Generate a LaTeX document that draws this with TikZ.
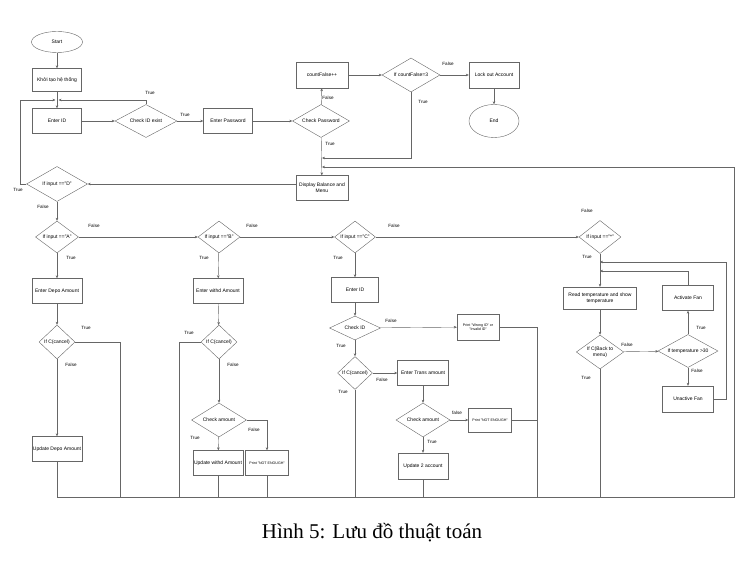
\documentclass[tikz,border=0pt]{standalone}
\usepackage{fontspec}
\setmainfont{Liberation Serif}
\setsansfont{Liberation Sans}
\usepackage{tikz}
\usetikzlibrary{shapes.geometric,arrows.meta}

\begin{document}
\begin{tikzpicture}[x=1pt,y=-1pt,
  box/.style={draw=black!60,inner sep=0pt,minimum width=50pt,minimum height=25pt,align=center,font=\sffamily\fontsize{5}{6}\selectfont},
  tiny/.style={font=\sffamily\fontsize{3.6}{4.4}\selectfont},
  dec/.style={draw=black!60,diamond,aspect=2,inner sep=0pt,align=center,font=\sffamily\fontsize{5}{6}\selectfont},
  term/.style={draw=black!60,ellipse,inner sep=0pt,font=\sffamily\fontsize{5}{6}\selectfont},
  lbl/.style={font=\sffamily\fontsize{4.6}{5}\selectfont},
  arr/.style={-{Stealth[length=3pt,width=2.6pt]},draw=black!60},
  ln/.style={draw=black!60}
]
  \useasboundingbox (0,0) rectangle (752,569);

  % Login
  \node[term,minimum width=51pt,minimum height=21pt] (start) at (57,42) {Start};
  \node[box,minimum width=49pt,minimum height=23pt] (init) at (57,80) {Khởi tạo hệ thống};
  \node[box,minimum width=49pt] (enterid) at (57,121) {Enter ID};
  \node[dec,minimum width=62pt,minimum height=33pt] (checkid) at (146,121) {Check ID exist};
  \node[box,minimum width=49pt] (enterpw) at (228,121) {Enter Password};
  \node[dec,minimum width=57pt,minimum height=33pt] (checkpw) at (321,121) {Check Password};
  \node[box,minimum width=52pt,minimum height=26pt] (countf) at (322,75) {countFalse++};
  \node[dec,minimum width=58pt,minimum height=34pt] (ifcount) at (411,75) {If countFalse=3};
  \node[box,minimum height=26pt] (lockout) at (494,75) {Lock out Account};
  \node[term,minimum width=50pt,minimum height=33pt] (theend) at (494,121) {End};
  \node[box,minimum width=52pt] (display) at (322,188) {Display Balance and\\Menu};

  % Menu choices
  \node[dec,minimum width=61pt,minimum height=35pt] (ifd) at (57,184) {If input =="D"};
  \node[dec,minimum width=43pt,minimum height=32pt] (ifa) at (57,237) {If input =="A"};
  \node[dec,minimum width=42pt,minimum height=32pt] (ifb) at (219,237) {If input =="B"};
  \node[dec,minimum width=41pt,minimum height=32pt] (ifc) at (355,237) {If input =="C"};
  \node[dec,minimum width=42pt,minimum height=33pt] (ifs) at (600,237) {If input =="*"};

  % Deposit
  \node[box] (depo) at (57,291) {Enter Depo Amount};
  \node[dec,minimum width=36pt,minimum height=34pt] (cancela) at (57,342) {If C(cancel)};
  \node[box] (updepo) at (57,449) {Update Depo Amount};

  % Withdraw
  \node[box] (withd) at (218,291) {Enter withd Amount};
  \node[dec,minimum width=36pt,minimum height=34pt] (cancelb) at (219,342) {If C(cancel)};
  \node[dec,minimum width=55pt,minimum height=34pt] (checkb) at (219,420) {Check amount};
  \node[box] (upwithd) at (218,463) {Update withd Amount};
  \node[box,tiny,minimum width=43pt] (notb) at (267,463) {Print "NOT ENOUGH"};

  % Transfer
  \node[box,minimum width=47pt] (enteridc) at (355,290) {Enter ID};
  \node[dec,minimum width=51pt,minimum height=24pt] (checkidc) at (355,328) {Check ID};
  \node[box,tiny,minimum width=42pt,minimum height=26pt] (wrongid) at (478,327) {Print "Wrong ID" or\\"Invalid ID"};
  \node[dec,minimum width=34pt,minimum height=33pt] (cancelc) at (355,373) {If C(cancel)};
  \node[box,minimum width=51pt] (trans) at (423,373) {Enter Trans amount};
  \node[dec,minimum width=54pt,minimum height=34pt] (checkc) at (423,420) {Check amount};
  \node[box,tiny,minimum width=43pt,minimum height=24pt] (notc) at (490,420) {Print "NOT ENOUGH"};
  \node[box,minimum height=26pt] (update2) at (423,466) {Update 2 account};

  % Temperature
  \node[box,minimum width=73pt,minimum height=22pt] (readt) at (600,298) {Read temperature and show\\temperature};
  \node[dec,minimum width=43pt,minimum height=34pt] (back) at (600,352) {If C(Back to\\menu)};
  \node[dec,minimum width=60pt,minimum height=33pt] (temp) at (688,351) {If temperature >30};
  \node[box,minimum width=51pt] (fanon) at (688,298) {Activate Fan};
  \node[box,minimum width=51pt,minimum height=26pt] (fanoff) at (688,399) {Unactive Fan};

  % Bends
  \coordinate (jn) at (57,100);
  \coordinate (lpd) at (20,184);
  \coordinate (jtrue) at (322,158);
  \coordinate (jmenu) at (322,167);
  \coordinate (bl) at (57,497);
  \coordinate (br) at (734,497);
  \coordinate (ba) at (120,497);
  \coordinate (bb) at (179,497);
  \coordinate (bc) at (537,497);
  \coordinate (jf1) at (600,262);
  \coordinate (jf2) at (600,271);
  \coordinate (fr) at (726,262);

  % Arrows
  \draw[arr] (start) -- (init);
  \draw[arr] (init) -- (enterid);
  \draw[arr] (enterid) -- (checkid);
  \draw[arr,shorten >=1.5pt] (checkid.north) |- (jn);
  \draw[arr] (checkid) -- (enterpw);
  \draw[arr] (enterpw) -- (checkpw);
  \draw[arr] (checkpw) -- (countf);
  \draw[arr] (countf) -- (ifcount);
  \draw[arr] (ifcount) -- (lockout);
  \draw[arr] (lockout) -- (theend);
  \draw[arr] (ifcount.south) |- (jtrue);
  \draw[arr] (checkpw) -- (display);
  \draw[arr] (display.west |- ifd.east) -- (ifd.east);
  \draw[arr,shorten >=1.5pt] (ifd.west) -- (lpd) |- (jn);
  \draw[arr] (ifd) -- (ifa);
  \draw[arr] (ifa) -- (ifb);
  \draw[arr] (ifb) -- (ifc);
  \draw[arr] (ifc) -- (ifs);

  \draw[arr] (ifa) -- (depo);
  \draw[arr] (depo) -- (cancela);
  \draw[arr] (cancela) -- (updepo);
  \draw[ln] (cancela.east) -| (ba);
  \draw[ln] (updepo) -- (bl);

  \draw[arr] (ifb) -- (withd);
  \draw[arr] (withd) -- (cancelb);
  \draw[ln] (cancelb.west) -| (bb);
  \draw[arr] (cancelb) -- (checkb);
  \draw[arr] (checkb) -- (upwithd);
  \draw[arr] (checkb.east) -| (notb);
  \draw[ln] (upwithd) -- (upwithd |- bl);
  \draw[ln] (notb) -- (notb |- bl);

  \draw[arr] (ifc) -- (enteridc);
  \draw[arr] (enteridc) -- (checkidc);
  \draw[arr] (checkidc) -- (wrongid);
  \draw[ln] (wrongid.east) -| (bc);
  \draw[arr] (checkidc) -- (cancelc);
  \draw[ln] (cancelc) -- (cancelc |- bl);
  \draw[arr] (cancelc) -- (trans);
  \draw[arr] (trans) -- (checkc);
  \draw[arr] (checkc) -- (notc);
  \draw[ln] (notc) -- (notc -| bc);
  \draw[arr] (checkc) -- (update2);
  \draw[ln] (update2) -- (update2 |- bl);

  \draw[arr] (ifs) -- (readt);
  \draw[arr] (readt) -- (back);
  \draw[arr] (back) -- (temp);
  \draw[arr] (temp) -- (fanon);
  \draw[arr] (temp) -- (fanoff);
  \draw[arr] (fanon.north) |- (jf2);
  \draw[arr] (fanoff.east) -| (fr) -- (jf1);
  \draw[ln] (back) -- (back |- bl);

  \draw[arr] (bl) -- (br) |- (jmenu);

  % Labels
  \node[lbl] (l1) at (150,93) {True};
  \node[lbl] (l2) at (185,115) {True};
  \node[lbl] (l3) at (328,98) {False};
  \node[lbl] (l4) at (330,144) {True};
  \node[lbl] (l5) at (448,64) {False};
  \node[lbl] (l6) at (423,102) {True};
  \node[lbl] (l7) at (18,190) {True};
  \node[lbl] (l8) at (43,207) {False};
  \node[lbl] (l9) at (94,226) {False};
  \node[lbl] (l10) at (252,226) {False};
  \node[lbl] (l11) at (394,226) {False};
  \node[lbl] (l12) at (587,211) {False};
  \node[lbl] (l13) at (71,258) {True};
  \node[lbl] (l14) at (204,258) {True};
  \node[lbl] (l15) at (338,258) {True};
  \node[lbl] (l16) at (587,257) {True};
  \node[lbl] (l17) at (86,328) {True};
  \node[lbl] (l18) at (71,365) {False};
  \node[lbl] (l19) at (189,333) {True};
  \node[lbl] (l20) at (233,365) {False};
  \node[lbl] (l21) at (254,430) {False};
  \node[lbl] (l22) at (195,438) {True};
  \node[lbl] (l23) at (391,321) {False};
  \node[lbl] (l24) at (341,346) {True};
  \node[lbl] (l25) at (382,380) {False};
  \node[lbl] (l26) at (343,392) {True};
  \node[lbl] (l27) at (457,413) {false};
  \node[lbl] (l28) at (432,442) {True};
  \node[lbl] (l29) at (627,345) {False};
  \node[lbl] (l30) at (701,328) {True};
  \node[lbl] (l31) at (697,371) {False};
  \node[lbl] (l32) at (586,378) {True};

  % Caption
  \node[font=\fontsize{21}{25}\selectfont] (cap) at (372,533) {Hình 5: Lưu đồ thuật toán};
\end{tikzpicture}
\end{document}
